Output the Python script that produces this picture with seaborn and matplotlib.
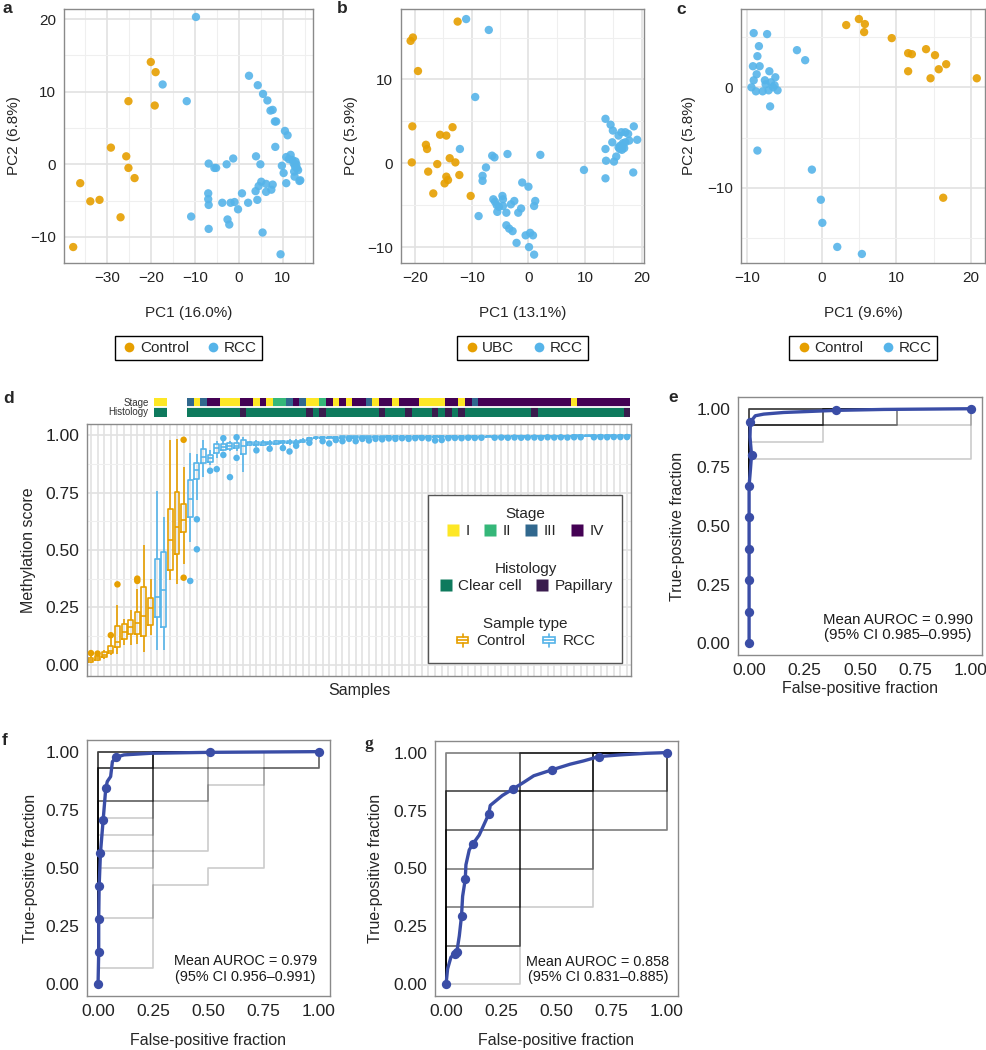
import matplotlib
matplotlib.use('Agg')

import matplotlib.pyplot as plt
import numpy as np
import pandas as pd
import seaborn as sns
from matplotlib.colors import ListedColormap
from matplotlib.legend_handler import HandlerBase
from matplotlib.lines import Line2D
from matplotlib.patches import Rectangle
from matplotlib.ticker import MultipleLocator

ORANGE = '#E69F00'
SKY = '#56B4E9'
ROC_BLUE = '#3A4DA6'
FIG_W, FIG_H = 987, 1050

# ---------------- a-c: PCA scores ----------------
a_ctrl_pc1 = [-20.1, -19.0, -25.2, -19.2, -29.2, -25.7, -25.2, -23.8, -36.2, -33.9, -31.8, -27.0, -37.8]
a_ctrl_pc2 = [14.1, 12.7, 8.7, 8.1, 2.3, 1.1, -0.5, -1.9, -2.6, -5.1, -4.9, -7.3, -11.4]
a_rcc_pc1 = [-9.8, -17.4, -11.9, 2.3, 4.3, 5.5, 6.5, 7.2, 7.7, 8.2, 8.5, 10.5, 11.1, 8.3, -6.9, -5.6,
             -5.2, -2.8, -1.3, 3.9, 4.9, 9.8, 10.2, 10.8, 10.8, 11.8, 11.4, 12.2, 12.5, 12.8, 13.1,
             13.2, 12.6, 12.7, 14.0, 13.8, 13.5, 12.9, 5.1, 6.2, 7.7, 4.5, 3.8, 6.2, 7.4, 4.2, 2.1,
             0.7, -1.0, -1.9, -3.8, -7.0, -7.0, -6.9, -0.2, -2.6, -2.2, -6.9, -10.9, 5.4, 9.5]
a_rcc_pc2 = [20.3, 11.0, 8.7, 12.2, 10.9, 9.7, 8.8, 7.4, 7.5, 5.9, 5.9, 4.6, 4.0, 2.4, 0.1, -0.5,
             -0.5, 0.0, 0.8, 1.1, 0.0, -0.2, -1.2, -2.6, 1.0, 1.3, 0.7, 0.6, 0.1, -0.3, 0.0,
             -0.5, -1.0, -1.7, -2.2, -2.3, -0.8, 0.4, -2.4, -2.7, -2.8, -3.0, -3.7, -3.8, -3.5, -4.9, -5.3,
             -4.0, -5.2, -5.3, -5.3, -4.0, -4.8, -5.6, -6.2, -7.6, -8.3, -8.9, -7.2, -9.4, -12.4]

b_ubc_pc1 = [-20.8, -20.4, -12.5, -19.5, -20.5, -20.6, -18.1, -17.9, -17.7, -16.8, -16.1, -15.6,
             -14.5, -13.4, -13.9, -12.9, -14.5, -14.2, -14.8, -12.2, -10.2]
b_ubc_pc2 = [14.6, 15.0, 16.9, 11.0, 4.4, 0.1, 2.2, 1.7, -1.0, -3.6, -0.1, 3.4,
             3.3, 4.3, 0.6, 0.1, -1.6, -2.0, -2.4, -1.4, -3.9]
b_rcc_pc1 = [-11.0, -7.0, -9.4, -12.1, -6.4, -6.0, -7.5, -8.1, -8.1, -3.7, 2.1, -8.8, -6.2, -5.9,
             -5.6, -5.2, -4.5, -4.6, -4.5, -5.5, -3.9, -3.1, -2.5, -1.1, 0.0, -1.3, -1.8, 1.2, 1.0,
             -3.9, -3.4, -2.8, -2.1, -0.5, 0.3, 0.8, 0.1, 1.0, 9.8, 13.6, 14.5, 14.9, 13.6, 14.8,
             13.7, 13.6, 15.1, 15.5, 15.9, 16.4, 17.1, 17.6, 18.6, 19.2, 17.8, 17.1, 16.7, 16.2,
             15.9, 16.5, 16.1, 18.5, 16.9, 16.6]
b_rcc_pc2 = [17.2, 15.9, 7.9, 1.7, 0.9, 0.7, -0.5, -1.5, -2.1, 1.1, 1.0, -6.3, -4.3, -4.6,
             -5.0, -5.2, -5.1, -3.9, -4.3, -5.8, -5.9, -4.9, -4.5, -2.3, -2.8, -5.4, -5.9, -4.5, -5.1,
             -7.4, -7.8, -8.1, -9.5, -8.6, -8.3, -8.6, -10.0, -10.9, -0.8, 5.3, 4.6, 3.9, 1.7, 2.5,
             0.3, -1.8, 0.2, 0.8, 3.3, 3.7, 3.7, 3.5, 4.4, 2.8, 2.7, 2.5, 2.4, 2.1,
             1.9, 1.6, 1.7, -1.1, 1.8, 1.9]

c_ctrl_pc1 = [3.3, 5.0, 5.8, 5.7, 9.4, 11.6, 12.1, 11.6, 14.0, 15.2, 16.7, 15.7, 14.6, 20.8, 16.3]
c_ctrl_pc2 = [6.2, 6.8, 6.3, 5.5, 4.9, 3.4, 3.3, 1.6, 3.8, 3.2, 2.3, 1.8, 0.9, 0.9, -11.0]
c_rcc_pc1 = [-9.1, -7.3, -8.4, -8.6, -9.2, -8.3, -8.7, -9.1, -7.0, -6.2, -9.4, -8.8, -7.9, -7.6, -7.5,
             -7.1, -6.8, -6.5, -6.3, -5.9, -6.9, -3.3, -2.2, -8.6, -1.3, -0.1, 0.1, 2.1, 5.4]
c_rcc_pc2 = [5.4, 5.3, 4.1, 3.1, 2.1, 2.1, 1.3, 0.7, 1.6, 1.0, 0.0, -0.4, -0.4, 0.7, 0.3,
             -0.3, 0.5, 0.0, 0.2, -0.3, -1.9, 3.7, 2.7, -6.3, -8.2, -11.2, -13.5, -15.9, -16.6]

# ---------------- d: per-sample methylation score boxes ----------------
type_runs = [('Control', 10), ('RCC', 2), ('Control', 3), ('RCC', 67)]
box_lo = [0.008, 0.015, 0.025, 0.040, 0.048, 0.085, 0.085, 0.090, 0.055, 0.128,
          0.063, 0.063, 0.368, 0.353, 0.440, 0.535, 0.717, 0.820, 0.870, 0.900,
          0.930, 0.930, 0.930, 0.840, 0.955, 0.950, 0.955, 0.955, 0.958, 0.960,
          0.960, 0.960, 0.965, 0.975, 0.982, 0.984, 0.984, 0.985, 0.985, 0.986,
          0.986, 0.987, 0.987, 0.988, 0.988, 0.990, 0.990, 0.991, 0.990, 0.991,
          0.991, 0.990, 0.991, 0.990, 0.991, 0.992, 0.991, 0.992, 0.992, 0.991,
          0.992, 0.992, 0.993, 0.992, 0.993, 0.993, 0.992, 0.993, 0.994, 0.993,
          0.994, 0.994, 0.993, 0.994, 0.994, 0.995, 0.994, 0.995, 0.995, 0.995,
          0.996, 0.996]
box_q1 = [0.012, 0.022, 0.035, 0.050, 0.077, 0.113, 0.135, 0.135, 0.124, 0.172,
          0.208, 0.164, 0.411, 0.484, 0.578, 0.644, 0.812, 0.878, 0.885, 0.925,
          0.935, 0.940, 0.945, 0.920, 0.960, 0.958, 0.960, 0.962, 0.963, 0.965,
          0.965, 0.966, 0.972, 0.982, 0.988, 0.989, 0.989, 0.990, 0.990, 0.990,
          0.991, 0.991, 0.991, 0.992, 0.992, 0.993, 0.993, 0.993, 0.993, 0.994,
          0.994, 0.993, 0.994, 0.993, 0.994, 0.994, 0.994, 0.995, 0.995, 0.994,
          0.995, 0.995, 0.995, 0.995, 0.996, 0.996, 0.995, 0.996, 0.996, 0.996,
          0.996, 0.996, 0.996, 0.997, 0.997, 0.997, 0.997, 0.997, 0.997, 0.997,
          0.998, 0.998]
box_med = [0.018, 0.030, 0.042, 0.058, 0.100, 0.140, 0.165, 0.180, 0.210, 0.247,
           0.295, 0.324, 0.542, 0.600, 0.630, 0.724, 0.849, 0.905, 0.900, 0.945,
           0.950, 0.952, 0.955, 0.955, 0.965, 0.963, 0.966, 0.967, 0.968, 0.970,
           0.970, 0.972, 0.977, 0.987, 0.991, 0.992, 0.992, 0.993, 0.993, 0.993,
           0.994, 0.994, 0.994, 0.994, 0.995, 0.996, 0.996, 0.996, 0.996, 0.996,
           0.996, 0.996, 0.996, 0.996, 0.996, 0.997, 0.997, 0.997, 0.997, 0.997,
           0.997, 0.997, 0.997, 0.997, 0.998, 0.998, 0.998, 0.998, 0.998, 0.998,
           0.998, 0.998, 0.998, 0.998, 0.998, 0.999, 0.999, 0.999, 0.999, 0.999,
           0.999, 0.999]
box_q3 = [0.028, 0.038, 0.055, 0.080, 0.167, 0.179, 0.193, 0.230, 0.339, 0.292,
          0.462, 0.491, 0.680, 0.753, 0.702, 0.804, 0.878, 0.943, 0.913, 0.962,
          0.963, 0.965, 0.968, 0.978, 0.970, 0.970, 0.972, 0.972, 0.974, 0.975,
          0.976, 0.977, 0.982, 0.991, 0.994, 0.995, 0.995, 0.995, 0.996, 0.996,
          0.996, 0.996, 0.996, 0.997, 0.997, 0.998, 0.998, 0.998, 0.998, 0.998,
          0.998, 0.998, 0.998, 0.998, 0.998, 0.998, 0.998, 0.999, 0.999, 0.998,
          0.999, 0.999, 0.999, 0.999, 0.999, 0.999, 0.999, 0.999, 0.999, 0.999,
          0.999, 0.999, 0.999, 1.000, 1.000, 1.000, 1.000, 1.000, 1.000, 1.000,
          1.000, 1.000]
box_hi = [0.038, 0.045, 0.065, 0.120, 0.260, 0.200, 0.237, 0.330, 0.520, 0.375,
          0.757, 0.644, 0.978, 0.985, 0.862, 0.924, 0.920, 0.978, 0.935, 0.975,
          0.975, 0.975, 0.980, 0.995, 0.976, 0.978, 0.980, 0.980, 0.981, 0.982,
          0.983, 0.984, 0.988, 0.995, 0.997, 0.998, 0.998, 0.998, 0.998, 0.998,
          0.999, 0.999, 0.999, 0.999, 0.999, 0.999, 0.999, 0.999, 0.999, 0.999,
          1.000, 1.000, 1.000, 1.000, 1.000, 1.000, 1.000, 1.000, 1.000, 1.000,
          1.000, 1.000, 1.000, 1.000, 1.000, 1.000, 1.000, 1.000, 1.000, 1.000,
          1.000, 1.000, 1.000, 1.000, 1.000, 1.000, 1.000, 1.000, 1.000, 1.000,
          1.000, 1.000]
out_sample = [1, 2, 4, 5, 8, 8, 15, 15, 16, 17, 17, 19, 20, 21, 21, 22, 23, 23, 26, 28, 30, 31, 32,
              34, 36, 37, 38, 39, 40, 41, 42, 43, 44, 45, 46, 47, 48, 49, 50, 51, 52, 53, 54, 55,
              56, 57, 58, 59, 60, 62, 63, 64, 65, 66, 67, 68, 69, 70, 71, 72, 73, 74, 75, 77, 78,
              79, 80, 81, 82]
out_score = [0.050, 0.048, 0.128, 0.350, 0.375, 0.365, 0.981, 0.379, 0.365, 0.634, 0.503, 0.846,
             0.853, 0.988, 0.915, 0.818, 0.992, 0.902, 0.935, 0.942, 0.945, 0.930, 0.955,
             0.968, 0.975, 0.965, 0.980, 0.975, 0.985, 0.975, 0.985, 0.978, 0.985, 0.983, 0.987,
             0.985, 0.988, 0.985, 0.988, 0.989, 0.987, 0.978, 0.980, 0.988, 0.989, 0.988, 0.990,
             0.989, 0.990, 0.990, 0.991, 0.990, 0.991, 0.990, 0.991, 0.991, 0.990, 0.992, 0.991,
             0.992, 0.991, 0.992, 0.992, 0.992, 0.993, 0.992, 0.993, 0.993, 0.993]
score_ticks = [0, 0.25, 0.5, 0.75, 1.0]
score_ticklabels = ['0.00', '0.25', '0.50', '0.75', '1.00']

# annotation of the RCC samples, in sample order
stage_levels = ['I', 'II', 'III', 'IV']
stage_colors = ['#FDE725', '#35B779', '#31688E', '#440154']
hist_levels = ['Clear cell', 'Papillary']
hist_colors = ['#0E7A5D', '#3A1C4E']
stage_rcc = ('I I '
             'III I III IV IV I I I IV IV '
             'I IV I II II III IV III I I '
             'II IV I IV I IV IV III I IV '
             'IV I IV IV IV I I I I IV '
             'IV I IV III '
             'IV IV IV IV IV IV IV IV IV IV IV IV IV IV '
             'I '
             'IV IV IV IV IV IV IV IV').split()
hist_rcc = ('C C C C C C C C C C '
            'P C C C C C C C C C '
            'P C P C C C C C C C '
            'C P C C C P C C C P '
            'C P C P C C C C C C '
            'C C C C P C C C C C '
            'C C C C C C C C P').split()

# ---------------- e-g: ROC curves ----------------
roc_ticks = [0, 0.25, 0.5, 0.75, 1.0]
roc_ticklabels = ['0.00', '0.25', '0.50', '0.75', '1.00']

e_fold_fpr = [[0, 0, 1], [0, 0, 0.333, 0.333, 1], [0, 0, 0.667, 0.667, 1], [0, 0, 1, 1],
              [0, 0, 0.333, 0.333, 0.667, 0.667, 1], [0, 0, 1, 1]]
e_fold_tpr = [[0, 1, 1], [0, 0.929, 0.929, 1, 1], [0, 0.929, 0.929, 1, 1], [0, 0.929, 0.929, 1],
              [0, 0.857, 0.857, 0.929, 0.929, 1, 1], [0, 0.786, 0.786, 1]]
e_fold_n = [6, 5, 2, 1, 1, 1]
e_mean_fpr = [0, 0, 0, 0, 0, 0, 0.006, 0.011, 0.004, 0.006, 0.028, 0.066, 0.156, 0.392, 0.608, 1.0]
e_mean_tpr = [0, 0.134, 0.268, 0.403, 0.537, 0.672, 0.74, 0.803, 0.88, 0.943, 0.97, 0.977, 0.984,
              0.993, 0.997, 1.0]
e_pt_fpr = [0, 0, 0, 0, 0, 0, 0.011, 0.006, 0.392, 1.0]
e_pt_tpr = [0, 0.134, 0.268, 0.403, 0.537, 0.672, 0.803, 0.943, 0.993, 1.0]

f_fold_fpr = [[0, 0, 1], [0, 0, .25, .25, 1], [0, 0, .25, .25, 1], [0, 0, .5, .5, 1], [0, 0, 1, 1],
              [0, 0, .25, .25, .5, .5, 1], [0, 0, .5, .5, .75, .75, 1], [0, 0, .25, .25, .5, .5, 1, 1],
              [0, 0, .25, .25, .5, .5, .75, .75, 1, 1], [0, 0, .25, .25, .5, .5, 1, 1],
              [0, 0, .25, .25, 1]]
f_fold_tpr = [[0, 1, 1], [0, .929, .929, 1, 1], [0, .786, .786, 1, 1], [0, .929, .929, 1, 1],
              [0, .929, .929, 1], [0, .643, .643, .929, .929, 1, 1], [0, .571, .571, .857, .857, 1, 1],
              [0, .5, .5, .786, .786, .929, .929, 1], [0, .286, .286, .429, .429, .5, .5, .929, .929, 1],
              [0, .071, .071, .786, .786, .929, .929, 1], [0, .714, .714, 1, 1]]
f_fold_n = [6, 4, 4, 1, 1, 1, 1, 1, 1, 1, 1]
f_mean_fpr = [0, 0.003, 0.003, 0.005, 0.011, 0.023, 0.035, 0.042, 0.057, 0.065, 0.083, 0.117, 0.24,
              0.508, 1.0]
f_mean_tpr = [0, 0.138, 0.283, 0.423, 0.566, 0.705, 0.843, 0.872, 0.893, 0.957, 0.976, 0.986, 0.993,
              0.997, 1.0]
f_pt_fpr = [0, 0.003, 0.003, 0.005, 0.011, 0.023, 0.035, 0.083, 0.508, 1.0]
f_pt_tpr = [0, 0.138, 0.283, 0.423, 0.566, 0.705, 0.843, 0.976, 0.997, 1.0]

g_fold_fpr = [[0, 0, .333, .333, 1], [0, 0, .333, .333, .667, .667, 1], [0, 0, .333, .333, 1, 1],
              [0, 0, .333, .333, .667, .667, 1, 1], [0, 0, .333, .333, .667, .667, 1],
              [0, .333, .333, .667, .667, 1], [0, 0, 1]]
g_fold_tpr = [[0, .833, .833, 1, 1], [0, .667, .667, .833, .833, 1, 1], [0, .5, .5, .667, .667, 1],
              [0, .333, .333, .5, .5, .833, .833, 1], [0, .167, .167, .833, .833, 1, 1],
              [0, 0, .333, .333, 1, 1], [0, 1, 1]]
g_fold_n = [5, 4, 3, 3, 4, 1, 3]
g_mean_fpr = [0, 0.007, 0.022, 0.049, 0.06, 0.07, 0.075, 0.087, 0.09, 0.105, 0.12, 0.15, 0.193, 0.2,
              0.255, 0.303, 0.352, 0.397, 0.481, 0.562, 0.622, 0.693, 0.787, 0.907, 1.0]
g_mean_tpr = [0, 0.067, 0.117, 0.141, 0.209, 0.295, 0.38, 0.454, 0.516, 0.58, 0.604, 0.644, 0.734,
              0.772, 0.815, 0.843, 0.872, 0.9, 0.926, 0.95, 0.964, 0.983, 0.99, 0.997, 1.0]
g_pt_fpr = [0, 0.04, 0.049, 0.07, 0.087, 0.12, 0.193, 0.303, 0.481, 0.693, 1.0]
g_pt_tpr = [0, 0.13, 0.141, 0.295, 0.454, 0.604, 0.734, 0.843, 0.926, 0.983, 1.0]


def px_axes(fig, left, top, right, bottom):
    return fig.add_axes([left / FIG_W, 1 - bottom / FIG_H,
                         (right - left) / FIG_W, (bottom - top) / FIG_H])


def gg_frame(ax, labelsize, grid=True):
    for sp in ax.spines.values():
        sp.set_visible(True)
        sp.set_color('#8a8a8a')
        sp.set_linewidth(1.0)
    ax.tick_params(which='major', direction='out', length=3.5, width=0.8,
                   color='#8a8a8a', labelcolor='#222222', labelsize=labelsize, pad=2)
    ax.tick_params(which='minor', length=0)
    if grid:
        ax.grid(True, which='major', color='#e2e2e2', lw=1.2)
        ax.grid(True, which='minor', color='#efefef', lw=0.8)
        ax.set_axisbelow(True)
    else:
        ax.grid(False)


def pca_panel(ax, pc1, pc2, group, levels, xlim, ylim, xticks, yticks, xlab, ylab, ylab_x):
    df = pd.DataFrame({'pc1': pc1, 'pc2': pc2, 'group': group})
    sns.scatterplot(data=df, x='pc1', y='pc2', hue='group', hue_order=levels,
                    palette=[ORANGE, SKY], s=36, linewidth=0, alpha=0.9, legend=False, ax=ax)
    ax.set_xlim(xlim)
    ax.set_ylim(ylim)
    ax.set_xticks(xticks)
    ax.set_yticks(yticks)
    ax.xaxis.set_minor_locator(MultipleLocator(5))
    ax.yaxis.set_minor_locator(MultipleLocator(5))
    gg_frame(ax, 11)
    ax.set_xlabel(xlab, fontsize=11)
    ax.set_ylabel(ylab, fontsize=11)
    ax.xaxis.set_label_coords(0.5, -0.169)
    ax.yaxis.set_label_coords(ylab_x, 0.5)
    handles = [Line2D([0], [0], marker='o', ls='none', ms=7, mfc=c, mec='none') for c in (ORANGE, SKY)]
    leg = ax.legend(handles, levels, loc='center', bbox_to_anchor=(0.5, -0.335), ncol=2,
                    fontsize=11, frameon=True, fancybox=False, edgecolor='black', framealpha=1,
                    handletextpad=0.1, columnspacing=1.0, borderpad=0.35, handlelength=1.2)
    leg.get_frame().set_linewidth(1.0)


def roc_panel(ax, fold_fpr, fold_tpr, fold_n, mean_fpr, mean_tpr, pt_fpr, pt_tpr,
              text, text_x, ylab_x, xlab_y, textsize):
    rows = []
    uid = 0
    for fpr, tpr, n in zip(fold_fpr, fold_tpr, fold_n):
        for _ in range(n):
            rows += [(uid, x, y) for x, y in zip(fpr, tpr)]
            uid += 1
    folds = pd.DataFrame(rows, columns=['fold', 'fpr', 'tpr'])
    sns.lineplot(data=folds, x='fpr', y='tpr', units='fold', estimator=None, sort=False,
                 color='black', alpha=0.2, lw=1.2, ax=ax)
    sns.lineplot(x=mean_fpr, y=mean_tpr, estimator=None, sort=False, color=ROC_BLUE, lw=2.4, ax=ax)
    sns.scatterplot(x=pt_fpr, y=pt_tpr, color=ROC_BLUE, s=45, linewidth=0, ax=ax, zorder=4)
    ax.set_xlim(-0.05, 1.05)
    ax.set_ylim(-0.05, 1.05)
    ax.set_xticks(roc_ticks, roc_ticklabels)
    ax.set_yticks(roc_ticks, roc_ticklabels)
    gg_frame(ax, 12.5, grid=False)
    ax.set_xlabel('False-positive fraction', fontsize=11.5)
    ax.set_ylabel('True-positive fraction', fontsize=11.5)
    ax.xaxis.set_label_coords(0.5, xlab_y)
    ax.yaxis.set_label_coords(ylab_x, 0.5)
    ax.text(text_x, 0.066, text, ha='right', va='center', multialignment='center',
            fontsize=textsize, color='#1a1a1a', linespacing=1.1)


class BoxKey:
    def __init__(self, color):
        self.color = color


class BoxKeyHandler(HandlerBase):
    def create_artists(self, legend, orig_handle, xdescent, ydescent, width, height, fontsize, trans):
        c = orig_handle.color
        cx = width / 2 - xdescent
        bw = 0.7 * width
        y0 = -ydescent
        box = Rectangle((cx - bw / 2, y0 + 0.22 * height), bw, 0.56 * height, fill=False,
                        edgecolor=c, lw=1.2, transform=trans)
        med = Line2D([cx - bw / 2, cx + bw / 2], [y0 + 0.5 * height] * 2, color=c, lw=1.2, transform=trans)
        w1 = Line2D([cx, cx], [y0 - 0.1 * height, y0 + 0.22 * height], color=c, lw=1.2, transform=trans)
        w2 = Line2D([cx, cx], [y0 + 0.78 * height, y0 + 1.1 * height], color=c, lw=1.2, transform=trans)
        return [box, med, w1, w2]


sns.set_theme(style='white')
plt.rcParams['font.family'] = ['Liberation Sans', 'DejaVu Sans']

fig = plt.figure(figsize=(FIG_W / 100, FIG_H / 100), dpi=100, facecolor='white')

# ---- a ----
ax_a = px_axes(fig, 64, 9, 313, 263)
pca_panel(ax_a, a_ctrl_pc1 + a_rcc_pc1, a_ctrl_pc2 + a_rcc_pc2,
          ['Control'] * len(a_ctrl_pc1) + ['RCC'] * len(a_rcc_pc1), ['Control', 'RCC'],
          (-39.9, 16.9), (-13.6, 21.4), [-30, -20, -10, 0, 10], [-10, 0, 10, 20],
          'PC1 (16.0%)', 'PC2 (6.8%)', -0.173)

# ---- b ----
ax_b = px_axes(fig, 401, 9, 644, 263)
pca_panel(ax_b, b_ubc_pc1 + b_rcc_pc1, b_ubc_pc2 + b_rcc_pc2,
          ['UBC'] * len(b_ubc_pc1) + ['RCC'] * len(b_rcc_pc1), ['UBC', 'RCC'],
          (-22.5, 20.4), (-11.9, 18.4), [-20, -10, 0, 10, 20], [-10, 0, 10],
          'PC1 (13.1%)', 'PC2 (5.9%)', -0.178)

# ---- c ----
ax_c = px_axes(fig, 741, 9, 985, 263)
pca_panel(ax_c, c_ctrl_pc1 + c_rcc_pc1, c_ctrl_pc2 + c_rcc_pc2,
          ['Control'] * len(c_ctrl_pc1) + ['RCC'] * len(c_rcc_pc1), ['Control', 'RCC'],
          (-10.8, 21.9), (-17.5, 7.8), [-10, 0, 10, 20], [-10, 0],
          'PC1 (9.6%)', 'PC2 (5.8%)', -0.185)

# ---- d ----
sample_type = [t for t, n in type_runs for _ in range(n)]
n_samples = len(sample_type)
rows = []
for i in range(n_samples):
    for v in (box_lo[i], box_q1[i], box_med[i], box_q3[i], box_hi[i]):
        rows.append((i, v, sample_type[i]))
box_df = pd.DataFrame(rows, columns=['sample', 'score', 'type'])
type_pal = {'Control': ORANGE, 'RCC': SKY}

ax_d = px_axes(fig, 87, 424, 631, 676)
sns.boxplot(data=box_df, x='sample', y='score', hue='type', hue_order=['Control', 'RCC'],
            palette=type_pal, native_scale=True, dodge=False, fill=False, width=0.75,
            linewidth=1.2, whis=(0, 100), showcaps=False, legend=False, ax=ax_d)
sns.scatterplot(x=[p - 1 for p in out_sample], y=out_score,
                hue=[sample_type[p - 1] for p in out_sample], palette=type_pal,
                s=22, linewidth=0, legend=False, ax=ax_d, zorder=3)
ax_d.set_xticks(range(n_samples))
ax_d.set_xticklabels([])
ax_d.set_yticks(score_ticks, score_ticklabels)
ax_d.yaxis.set_minor_locator(MultipleLocator(0.125))
gg_frame(ax_d, 12.5)
ax_d.tick_params(axis='x', length=0)
ax_d.set_xlim(-0.6, n_samples - 0.4)
ax_d.set_ylim(-0.05, 1.05)
ax_d.set_xlabel('Samples', fontsize=11.5)
ax_d.set_ylabel('Methylation score', fontsize=11.5)
ax_d.xaxis.set_label_coords(0.5, -0.028)
ax_d.yaxis.set_label_coords(-0.093, 0.5)

# legend block of d
ax_d.add_patch(Rectangle((0.627, 0.052), 0.356, 0.666, transform=ax_d.transAxes,
                         facecolor='white', edgecolor='#555555', lw=1.0, zorder=6))
leg_kw = dict(loc='center', frameon=False, fontsize=11, title_fontsize=11,
              handletextpad=0.35, borderpad=0.1, labelspacing=0.2)
stage_handles = [Line2D([0], [0], marker='s', ls='none', ms=8.5, mfc=c, mec='none') for c in stage_colors]
leg1 = ax_d.legend(stage_handles, stage_levels, title='Stage', bbox_to_anchor=(0.805, 0.609),
                   ncol=4, handlelength=0.9, columnspacing=0.9, **leg_kw)
leg1.set_zorder(7)
ax_d.add_artist(leg1)
hist_handles = [Line2D([0], [0], marker='s', ls='none', ms=8.5, mfc=c, mec='none') for c in hist_colors]
leg2 = ax_d.legend(hist_handles, hist_levels, title='Histology', bbox_to_anchor=(0.807, 0.389),
                   ncol=2, handlelength=0.9, columnspacing=0.9, **leg_kw)
leg2.set_zorder(7)
ax_d.add_artist(leg2)
leg3 = ax_d.legend([BoxKey(ORANGE), BoxKey(SKY)], ['Control', 'RCC'], title='Sample type',
                   bbox_to_anchor=(0.805, 0.171), ncol=2, handlelength=1.1, columnspacing=1.0,
                   handler_map={BoxKey: BoxKeyHandler()}, **leg_kw)
leg3.set_zorder(7)

# stage / histology annotation strip
rcc_idx = [i for i, t in enumerate(sample_type) if t == 'RCC']
ann = np.full((2, n_samples), np.nan)
for j, i in enumerate(rcc_idx):
    ann[0, i] = stage_levels.index(stage_rcc[j])
    ann[1, i] = 4 + (1 if hist_rcc[j] == 'P' else 0)
ax_ann = px_axes(fig, 87, 398, 631, 416.5)
sns.heatmap(ann, cmap=ListedColormap(stage_colors + hist_colors), vmin=-0.5, vmax=5.5,
            cbar=False, xticklabels=False, yticklabels=False, ax=ax_ann)
ax_ann.set_xlim(-0.1, n_samples + 0.1)
ax_ann.axhline(1, color='white', lw=1.3)
ax_ann.text(9.2, 0.5, 'Stage', ha='right', va='center', fontsize=7, color='#333333')
ax_ann.text(9.2, 1.5, 'Histology', ha='right', va='center', fontsize=7, color='#333333')

# ---- e, f, g ----
ax_e = px_axes(fig, 738, 397, 982, 655)
roc_panel(ax_e, e_fold_fpr, e_fold_tpr, e_fold_n, e_mean_fpr, e_mean_tpr, e_pt_fpr, e_pt_tpr,
          'Mean AUROC = 0.990\n(95% CI 0.985\u20130.995)', 1.01, -0.218, -0.102, 10.8)
ax_f = px_axes(fig, 87, 740, 330, 996)
roc_panel(ax_f, f_fold_fpr, f_fold_tpr, f_fold_n, f_mean_fpr, f_mean_tpr, f_pt_fpr, f_pt_tpr,
          'Mean AUROC = 0.979\n(95% CI 0.956\u20130.991)', 0.991, -0.2, -0.145, 10.4)
ax_g = px_axes(fig, 435, 741, 678, 996)
roc_panel(ax_g, g_fold_fpr, g_fold_tpr, g_fold_n, g_mean_fpr, g_mean_tpr, g_pt_fpr, g_pt_tpr,
          'Mean AUROC = 0.858\n(95% CI 0.831\u20130.885)', 1.012, -0.214, -0.145, 10.4)

# panel letters
for letter, x, y, fam in [('a', 3, 13, 'sans'), ('b', 337, 13, 'sans'), ('c', 676, 14, 'sans'),
                          ('d', 3, 403, 'sans'), ('e', 668, 402, 'sans'), ('f', 2, 745, 'sans'),
                          ('g', 365, 748, 'serif')]:
    family = ['Liberation Serif', 'DejaVu Serif'] if fam == 'serif' else ['Liberation Sans', 'DejaVu Sans']
    fig.text(x / FIG_W, 1 - y / FIG_H, letter, ha='left', va='baseline', fontsize=12.5,
             fontweight='bold', family=family)

fig.savefig('out.png', dpi=100, facecolor='white')
